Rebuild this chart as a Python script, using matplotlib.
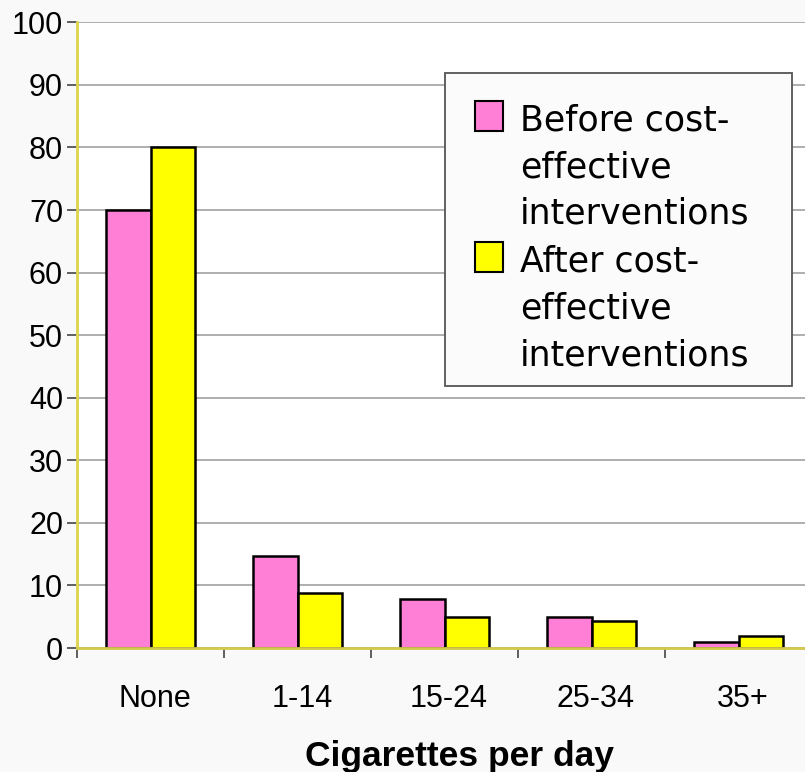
import matplotlib
matplotlib.use("Agg")
import matplotlib.pyplot as plt
from matplotlib.patches import Rectangle
import numpy as np

categories = ["None", "1-14", "15-24", "25-34", "35+"]
before = [70, 14.7, 7.8, 5.0, 1.0]
after = [80, 8.8, 5.0, 4.3, 1.9]
series_labels = ["Before cost-\neffective\ninterventions",
                 "After cost-\neffective\ninterventions"]
yticks = list(range(0, 101, 10))

pink = "#ff7fd6"
yellow = "#ffff00"
W, H = 805, 772

fig = plt.figure(figsize=(W / 100, H / 100), dpi=100, facecolor="#f9f9f9")
ax = fig.add_axes([77 / W, 1 - 648 / H, 735 / W, (648 - 22.3) / H])
ax.set_facecolor("white")

x = np.arange(len(categories)) + 0.5
bw = 0.3
ax.bar(x - bw / 2, before, bw, color=pink, edgecolor="black", linewidth=1.8, zorder=2)
ax.bar(x + bw / 2, after, bw, color=yellow, edgecolor="black", linewidth=1.8, zorder=2)

ax.set_xlim(0, len(categories))
ax.set_ylim(0, 100)
ax.set_yticks(yticks)
ax.set_yticklabels([str(v) for v in yticks], fontfamily="Liberation Sans", fontsize=22)
ax.set_xticks(np.arange(len(categories) + 1))
ax.set_xticklabels([])
ax.set_xticks(x + 0.03, minor=True)
ax.set_xticklabels(categories, minor=True, fontfamily="Liberation Sans", fontsize=22)
ax.tick_params(axis="x", which="minor", length=0, pad=26)
ax.tick_params(axis="x", which="major", length=7, width=1.2, color="#444444", direction="out")
ax.tick_params(axis="y", length=7, width=1.2, color="#444444", pad=3)

ax.yaxis.grid(True, color="#999999", linewidth=1.1, zorder=0)
ax.set_axisbelow(True)
for s in ["top", "right"]:
    ax.spines[s].set_visible(False)
ax.spines["left"].set_color("#dcd44a")
ax.spines["left"].set_linewidth(2)
ax.spines["bottom"].set_color("#d2c84a")
ax.spines["bottom"].set_linewidth(2)
ax.spines["bottom"].set_zorder(3)

ax.set_xlabel("Cigarettes per day", fontfamily="Liberation Sans", fontsize=25.5,
              fontweight="bold")
ax.xaxis.set_label_coords((459 - 77) / 735, -0.147)

# legend box drawn by hand so the swatches sit at the first line of each label
fig.patches.append(Rectangle((445 / W, 1 - 386 / H), 347 / W, 313 / H,
                             transform=fig.transFigure, facecolor="#fbfbfb",
                             edgecolor="#555555", linewidth=1.3, zorder=5))
colors = [pink, yellow]
first_base = [130.5, 272]
for lab, col, yb in zip(series_labels, colors, first_base):
    fig.patches.append(Rectangle((475 / W, 1 - (yb + 0.5) / H), 28 / W, 30 / H,
                                 transform=fig.transFigure, facecolor=col,
                                 edgecolor="black", linewidth=1.5, zorder=6))
    for i, line in enumerate(lab.split("\n")):
        fig.text(520 / W, 1 - (yb + 46.5 * i) / H, line, fontfamily="DejaVu Sans",
                 fontsize=25, va="baseline", ha="left", zorder=7)

fig.savefig("out.png", dpi=100, facecolor=fig.get_facecolor())
